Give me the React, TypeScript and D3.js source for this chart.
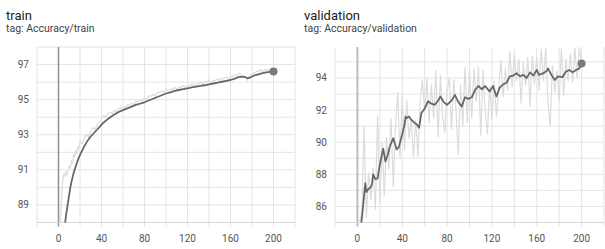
import React from "react";
import * as d3 from "d3";

// ---- train data ----
const trainSmoothEpochs = [5, 6, 7, 8, 9, 10, 11, 12, 14, 16, 18, 20, 22, 24, 26, 28, 30, 33, 36, 39, 42, 45, 48, 52, 56, 60, 64, 68, 72, 76, 80, 84, 88, 92, 96, 100, 104, 108, 112, 116, 120, 124, 128, 132, 136, 140, 144, 148, 152, 156, 160, 164, 168, 171, 174, 176, 178, 181, 185, 189, 193, 197, 200];
const trainSmoothValues = [87.4, 87.9, 88.4, 88.8, 89.2, 89.6, 90.0, 90.3, 90.8, 91.2, 91.55, 91.85, 92.1, 92.35, 92.55, 92.75, 92.9, 93.1, 93.3, 93.5, 93.7, 93.85, 94.0, 94.15, 94.3, 94.4, 94.5, 94.6, 94.7, 94.78, 94.85, 94.95, 95.05, 95.15, 95.25, 95.35, 95.42, 95.5, 95.55, 95.6, 95.64, 95.7, 95.74, 95.78, 95.82, 95.87, 95.92, 95.97, 96.02, 96.07, 96.12, 96.2, 96.3, 96.3, 96.28, 96.22, 96.25, 96.35, 96.43, 96.5, 96.55, 96.58, 96.6];

const trainRawEpochs = [1, 2, 3, 4, 5, 6, 7, 8, 9, 10, 11, 12, 13, 14, 15, 16, 17, 18, 19, 20, 22, 24, 26, 28, 30, 32, 34, 36, 38, 40, 42, 44, 46, 48, 50, 52, 54, 56, 58, 60, 62, 64, 66, 68, 70, 72, 74, 76, 78, 80, 82, 84, 86, 88, 90, 92, 94, 96, 98, 100, 102, 104, 106, 108, 110, 112, 114, 116, 118, 120, 122, 124, 126, 128, 130, 132, 134, 136, 138, 140, 142, 144, 146, 148, 150, 152, 154, 156, 158, 160, 162, 164, 166, 168, 170, 172, 174, 176, 178, 180, 182, 184, 186, 188, 190, 192, 194, 196, 198, 200];
const trainRawValues = [86.5, 88.3, 89.6, 90.4, 90.8, 90.6, 90.9, 90.7, 91.0, 91.2, 91.1, 91.5, 91.4, 91.9, 91.7, 92.1, 91.9, 92.3, 92.2, 92.6, 92.5, 92.8, 93.0, 92.9, 93.2, 93.4, 93.3, 93.6, 93.7, 93.9, 94.1, 94.0, 94.2, 94.3, 94.2, 94.4, 94.3, 94.5, 94.5, 94.6, 94.5, 94.7, 94.7, 94.8, 94.7, 94.9, 94.9, 95.0, 94.9, 95.1, 95.0, 95.2, 95.2, 95.3, 95.2, 95.4, 95.4, 95.5, 95.4, 95.6, 95.5, 95.6, 95.6, 95.7, 95.6, 95.7, 95.7, 95.8, 95.7, 95.8, 95.8, 95.9, 95.8, 95.9, 95.9, 96.0, 95.9, 96.0, 96.0, 96.1, 96.0, 96.1, 96.1, 96.2, 96.1, 96.2, 96.2, 96.3, 96.2, 96.3, 96.3, 96.4, 96.4, 96.5, 96.4, 96.4, 96.3, 96.1, 96.4, 96.5, 96.5, 96.6, 96.6, 96.7, 96.6, 96.7, 96.7, 96.7, 96.6, 96.65];

// ---- validation data ----
const valSmoothEpochs = [3, 5, 7, 8, 10, 12, 13, 14, 16, 18, 20, 23, 25, 27, 29, 32, 35, 37, 40, 42, 43, 44, 46, 48, 51, 53, 55, 57, 60, 63, 66, 69, 72, 74, 77, 80, 84, 87, 90, 93, 96, 99, 102, 105, 108, 111, 114, 118, 121, 124, 127, 130, 133, 136, 139, 142, 145, 148, 151, 154, 157, 160, 162, 166, 169, 170, 173, 176, 179, 183, 186, 189, 192, 195, 198, 200];
const valSmoothValues = [84.6, 86.0, 87.45, 86.9, 87.1, 87.2, 87.4, 88.0, 87.7, 87.75, 88.6, 89.6, 88.8, 89.2, 89.75, 90.25, 89.55, 89.7, 90.5, 91.1, 91.6, 91.5, 91.6, 91.4, 91.2, 91.1, 90.9, 91.8, 92.1, 92.55, 92.4, 92.33, 92.6, 92.85, 92.5, 92.33, 92.6, 92.95, 92.5, 92.22, 92.8, 92.7, 92.8, 93.26, 93.5, 93.3, 93.5, 93.15, 93.5, 92.85, 93.4, 93.6, 93.7, 94.1, 94.15, 94.3, 94.1, 94.2, 94.0, 94.35, 94.15, 94.5, 94.2, 94.3, 94.45, 94.6, 94.2, 93.88, 94.1, 94.05, 94.4, 94.5, 94.35, 94.5, 94.6, 94.9];

const valRawEpochs = [1, 2, 4, 6, 8, 10, 12, 14, 16, 18, 20, 22, 24, 26, 28, 30, 32, 34, 36, 38, 40, 42, 44, 46, 48, 50, 52, 54, 56, 58, 60, 62, 64, 66, 68, 70, 72, 74, 76, 78, 80, 82, 84, 86, 88, 90, 92, 94, 96, 98, 100, 102, 104, 106, 108, 110, 112, 114, 116, 118, 120, 122, 124, 126, 128, 130, 132, 134, 136, 138, 140, 142, 144, 146, 148, 150, 152, 154, 156, 158, 160, 162, 164, 166, 168, 170, 172, 174, 176, 178, 180, 182, 184, 186, 188, 190, 192, 194, 196, 198, 200];
const valRawValues = [83.5, 85.0, 85.6, 91.0, 85.3, 88.1, 86.4, 88.4, 85.8, 91.7, 86.2, 90.0, 86.6, 90.3, 88.3, 91.5, 87.2, 91.0, 93.1, 89.0, 92.9, 89.5, 92.6, 90.2, 91.4, 89.1, 91.4, 89.1, 92.5, 93.9, 91.8, 94.0, 91.2, 93.6, 91.5, 94.5, 90.3, 94.2, 91.6, 90.6, 93.2, 94.0, 90.8, 93.9, 92.0, 89.2, 93.6, 91.0, 94.7, 91.2, 94.5, 91.5, 94.6, 92.5, 94.7, 90.4, 94.5, 92.0, 90.5, 93.5, 91.4, 93.8, 91.6, 93.4, 95.1, 92.8, 94.6, 93.2, 95.7, 93.4, 95.5, 93.8, 95.2, 92.4, 95.0, 93.5, 95.3, 92.2, 95.4, 93.6, 95.3, 93.2, 95.8, 93.8, 95.9, 92.5, 91.0, 94.8, 93.1, 94.5, 92.6, 95.9, 92.9, 95.2, 93.8, 95.5, 93.7, 95.9, 94.0, 95.9, 94.9];

const xTicks = [0, 40, 80, 120, 160, 200];
const xGrid = [-20, 0, 20, 40, 60, 80, 100, 120, 140, 160, 180, 200, 220];
const trainYTicks = [89, 91, 93, 95, 97];
const valYTicks = [86, 88, 90, 92, 94];

type PanelProps = {
  id: string;
  title: string;
  tag: string;
  left: number;
  right: number;
  yDomain: [number, number];
  yTicks: number[];
  rawX: number[];
  rawY: number[];
  smX: number[];
  smY: number[];
  titleX: number;
  zeroColor: string;
  zeroWidth: number;
};

function Panel(p: PanelProps) {
  const top = 47;
  const bottom = 222.5;
  const x = d3.scaleLinear().domain([-20, 220]).range([p.left, p.right]);
  const y = d3.scaleLinear().domain(p.yDomain).range([bottom, top]);
  const hGrid = d3.range(Math.ceil(p.yDomain[0]), Math.floor(p.yDomain[1]) + 1);
  const line = d3
    .line<[number, number]>()
    .x((d) => x(d[0]))
    .y((d) => y(d[1]));
  const raw = line(p.rawX.map((e, i) => [e, p.rawY[i]] as [number, number])) || "";
  const sm = line(p.smX.map((e, i) => [e, p.smY[i]] as [number, number])) || "";
  const lastX = p.smX[p.smX.length - 1];
  const lastY = p.smY[p.smY.length - 1];
  const font = "Roboto, 'Noto Sans', sans-serif";
  return (
    <g>
      <defs>
        <clipPath id={p.id + "-clip"}>
          <rect x={p.left} y={top} width={p.right - p.left} height={bottom - top} />
        </clipPath>
      </defs>
      <text x={p.titleX} y={20} fontSize={13} fill="#212121" fontFamily={font}>
        {p.title}
      </text>
      <text x={p.titleX} y={32} fontSize={10.5} fill="#424242" fontFamily={font}>
        {p.tag}
      </text>
      {hGrid.map((v) => (
        <line key={"h" + v} x1={p.left} x2={p.right} y1={y(v)} y2={y(v)} stroke="#e4e4e4" strokeWidth={1} />
      ))}
      {xGrid.map((v) => (
        <line
          key={"v" + v}
          x1={x(v)}
          x2={x(v)}
          y1={top}
          y2={bottom + 4}
          stroke={v === 0 ? p.zeroColor : "#e4e4e4"}
          strokeWidth={v === 0 ? p.zeroWidth : 1}
        />
      ))}
      <line x1={p.left} x2={p.right} y1={bottom} y2={bottom} stroke="#d6d6d6" strokeWidth={1} />
      <g clipPath={`url(#${p.id}-clip)`}>
        <path d={raw} fill="none" stroke="#dcdcdc" strokeWidth={1.2} />
        <path d={sm} fill="none" stroke="#676767" strokeWidth={1.8} strokeLinejoin="round" />
      </g>
      <circle cx={x(lastX)} cy={y(lastY)} r={4} fill="#7a7a7a" />
      {p.yTicks.map((v) => (
        <text
          key={"yt" + v}
          x={p.left - 8}
          y={y(v)}
          dy="0.35em"
          textAnchor="end"
          fontSize={10}
          fill="#555"
          fontFamily={font}
        >
          {v}
        </text>
      ))}
      {xTicks.map((v) => (
        <text
          key={"xt" + v}
          x={x(v)}
          y={242}
          textAnchor="middle"
          fontSize={10}
          fill="#555"
          fontFamily={font}
        >
          {v}
        </text>
      ))}
    </g>
  );
}

export default function App() {
  return (
    <svg
      width={605}
      height={249}
      style={{ position: "absolute", left: 0, top: 0, background: "#fff" }}
    >
      <Panel
        id="train"
        title="train"
        tag="tag: Accuracy/train"
        left={37}
        right={295}
        yDomain={[88, 98]}
        yTicks={trainYTicks}
        rawX={trainRawEpochs}
        rawY={trainRawValues}
        smX={trainSmoothEpochs}
        smY={trainSmoothValues}
        titleX={6}
        zeroColor="#8f8f8f"
        zeroWidth={1.5}
      />
      <Panel
        id="val"
        title="validation"
        tag="tag: Accuracy/validation"
        left={335}
        right={604}
        yDomain={[85, 95.93]}
        yTicks={valYTicks}
        rawX={valRawEpochs}
        rawY={valRawValues}
        smX={valSmoothEpochs}
        smY={valSmoothValues}
        titleX={304}
        zeroColor="#bdbdbd"
        zeroWidth={2}
      />
    </svg>
  );
}
